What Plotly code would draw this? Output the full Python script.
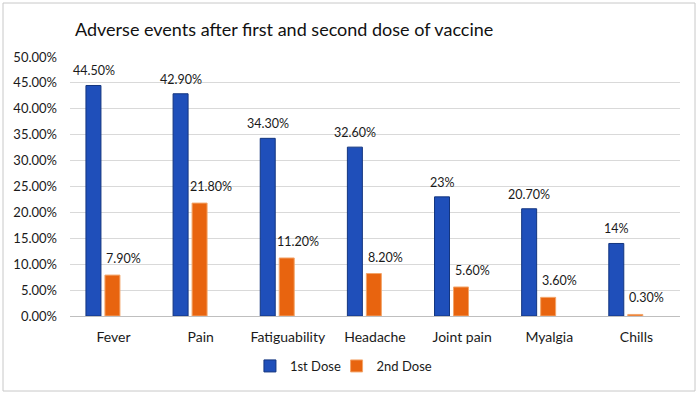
import plotly.graph_objects as go

categories = ["Fever", "Pain", "Fatiguability", "Headache", "Joint pain", "Myalgia", "Chills"]
dose1 = [44.5, 42.9, 34.3, 32.6, 23.0, 20.7, 14.0]
dose2 = [7.9, 21.8, 11.2, 8.2, 5.6, 3.6, 0.3]
dose1_labels = ["44.50%", "42.90%", "34.30%", "32.60%", "23%", "20.70%", "14%"]
dose2_labels = ["7.90%", "21.80%", "11.20%", "8.20%", "5.60%", "3.60%", "0.30%"]
tick_vals = [0, 5, 10, 15, 20, 25, 30, 35, 40, 45, 50]
tick_text = ["0.00%", "5.00%", "10.00%", "15.00%", "20.00%", "25.00%", "30.00%",
             "35.00%", "40.00%", "45.00%", "50.00%"]

font_family = "Lato, Calibri, Carlito, sans-serif"

fig = go.Figure()
fig.add_trace(go.Bar(
    name="1st Dose", x=categories, y=dose1,
    offset=-0.317, width=0.172, legend="legend",
    marker=dict(color="#1F4FBA", line=dict(color="#13357F", width=1)),
))
fig.add_trace(go.Bar(
    name="2nd Dose", x=categories, y=dose2,
    offset=-0.099, width=0.172, legend="legend2",
    marker=dict(color="#E8640F", line=dict(color="#F3A56A", width=1)),
))

# data labels (Excel places them slightly above, 2nd-dose labels shifted right)
for cat, val, lab in zip(categories, dose1, dose1_labels):
    fig.add_annotation(x=cat, y=val, text=lab, showarrow=False,
                       xanchor="center", yanchor="bottom", xshift=-20, yshift=5,
                       font=dict(size=12.5, color="#1a1a1a", family=font_family))
for cat, val, lab in zip(categories, dose2, dose2_labels):
    fig.add_annotation(x=cat, y=val, text=lab, showarrow=False,
                       xanchor="center", yanchor="bottom", xshift=10, yshift=7,
                       font=dict(size=12.5, color="#1a1a1a", family=font_family))

legend_common = dict(orientation="h", xanchor="left", y=-0.193, yanchor="middle",
                     font=dict(size=13, color="#1a1a1a"), itemwidth=30,
                     bgcolor="rgba(0,0,0,0)")

fig.update_layout(
    width=700, height=394,
    barmode="overlay",
    paper_bgcolor="white", plot_bgcolor="white",
    margin=dict(l=70, r=20, t=57, b=78),
    font=dict(family=font_family, color="#1a1a1a", size=12),
    title=dict(text="Adverse events after first and second dose of vaccine",
               x=75 / 700, xanchor="left", y=1 - 30 / 394, yanchor="middle",
               font=dict(size=18, color="#111111", family=font_family)),
    legend=dict(x=0.295, **legend_common),
    legend2=dict(x=0.437, **legend_common),
    showlegend=True,
)
fig.update_yaxes(range=[0, 50], tickvals=tick_vals, ticktext=tick_text,
                 showgrid=True, gridcolor="#D9D9D9", gridwidth=1,
                 zeroline=False, showline=False, ticks="", ticklabelstandoff=12,
                 tickfont=dict(size=13, color="#1a1a1a"))
fig.update_xaxes(showline=True, linecolor="#BFBFBF", linewidth=1, ticks="",
                 ticklabelstandoff=8,
                 tickfont=dict(size=14, color="#1a1a1a"))

fig.add_shape(type="rect", xref="paper", yref="paper",
              x0=(3 - 70) / 610, x1=(695 - 70) / 610,
              y0=(316 - 391) / 259, y1=(316 - 3) / 259,
              line=dict(color="#C8C8C8", width=1), fillcolor="rgba(0,0,0,0)", layer="below")

fig.write_html("out.html", config={"displayModeBar": False},
               post_script="document.body.style.margin='0';")
